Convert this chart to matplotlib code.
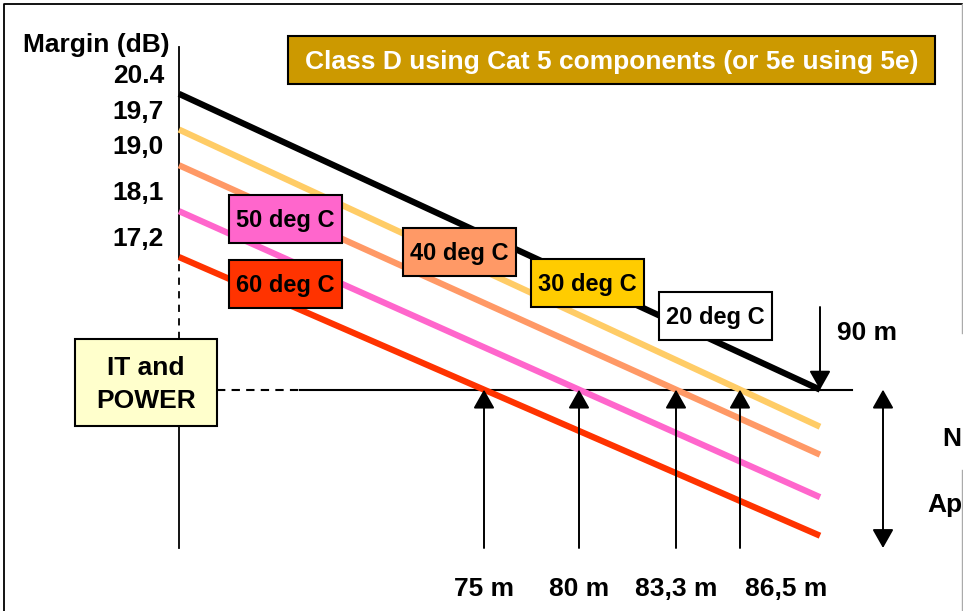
import numpy as np
import matplotlib
matplotlib.use("Agg")
import matplotlib.pyplot as plt
from matplotlib.patches import Rectangle
from matplotlib.transforms import blended_transform_factory

plt.rcParams['font.family'] = ['Liberation Sans', 'DejaVu Sans']
plt.rcParams['font.weight'] = 'bold'

# data
temps_c = [20, 30, 40, 50, 60]
start_margin_db = [20.4, 19.7, 19.0, 18.1, 17.2]
start_labels = ['20.4', '19,7', '19,0', '18,1', '17,2']
reach_m = [90, 86.5, 83.3, 80, 75]
reach_labels = ['90 m', '86,5 m', '83,3 m', '80 m', '75 m']
threshold_db = 14.6

line_colors = ['#000000', '#FFCC66', '#FF9966', '#FF66CC', '#FF3300']
box_colors = ['#FFFFFF', '#FFCC00', '#FF9966', '#FF66CC', '#FF3300']

W, H = 963, 611

# the length axis is not drawn to scale: piecewise linear scale (metres -> pixels from axis)
SCALE_M = [0, 75, 80, 83.3, 86.5, 90]
SCALE_PX = [0, 305, 400, 497, 561, 641]
AXIS_PX = 179
DB_TOP, PX_PER_DB = 22.24, 51.0


def _pwl(v, xp, fp):
    v = np.asarray(v, dtype=float)
    out = np.interp(v, xp, fp)
    lo = fp[0] + (v - xp[0]) * (fp[1] - fp[0]) / (xp[1] - xp[0])
    hi = fp[-1] + (v - xp[-1]) * (fp[-1] - fp[-2]) / (xp[-1] - xp[-2])
    out = np.where(v < xp[0], lo, out)
    out = np.where(v > xp[-1], hi, out)
    return out


def fwd(m):
    return _pwl(m, SCALE_M, SCALE_PX)


def inv(u):
    return _pwl(u, SCALE_PX, SCALE_M)


def fx(px):
    return px / W


def fy(py):
    return 1 - py / H


fig = plt.figure(figsize=(W / 100, H / 100), dpi=100)
ax = fig.add_axes([0, 0, 1, 1])
ax.set_xscale('function', functions=(fwd, inv))
ax.set_xlim(float(inv(-AXIS_PX)), float(inv(W - AXIS_PX)))
ax.set_ylim(DB_TOP - H / PX_PER_DB, DB_TOP)
ax.axis('off')
xdata_yaxes = blended_transform_factory(ax.transData, ax.transAxes)

# outer frame
ax.plot([fx(3.5), fx(3.5), fx(961.5)], [fy(H), fy(3.5), fy(3.5)],
        transform=ax.transAxes, color='black', lw=1.3, clip_on=False)
ax.plot([fx(961.5), fx(961.5)], [fy(3.5), fy(333)], transform=ax.transAxes,
        color='#aaaaaa', lw=1.0)
ax.plot([fx(961.5), fx(961.5)], [fy(470), fy(H)], transform=ax.transAxes,
        color='#aaaaaa', lw=1.0)

# vertical margin axis at 0 m
ax.axvline(0, ymin=fy(259), ymax=fy(47), color='black', lw=1.3, zorder=1)
ax.axvline(0, ymin=fy(339), ymax=fy(259), color='black', lw=1.3,
           ls=(0, (4, 3.5)), zorder=1)
ax.axvline(0, ymin=fy(548), ymax=fy(426), color='black', lw=1.3, zorder=1)

# threshold line
ax.axhline(threshold_db, xmin=fx(217), xmax=fx(300), color='black', lw=1.5,
           ls=(0, (4, 3)), zorder=1)
ax.axhline(threshold_db, xmin=fx(300), xmax=fx(852), color='black', lw=1.5,
           zorder=1)

# margin lines, straight on the drawing, crossing the threshold at their reach
u_end = float(fwd(90))
for s, r, c in zip(start_margin_db, reach_m, line_colors):
    u_r = float(fwd(r))
    y_end = s + (threshold_db - s) * u_end / u_r
    ax.plot([0, 90], [s, y_end], color=c, lw=4.5, solid_capstyle='butt',
            zorder=3 if c == '#000000' else 2)

# start value labels
ax.text(fx(170), fy(52), 'Margin (dB)', transform=ax.transAxes,
        ha='right', va='baseline', fontsize=19)
for s, lab in zip(start_margin_db, start_labels):
    ax.annotate(lab, xy=(0, s), xytext=(-15, 11), textcoords='offset pixels',
                ha='right', va='baseline', fontsize=19)

arrow_kw = dict(color='black', lw=1.4, shrinkA=0, shrinkB=0, mutation_scale=10)
head = 'head_length=1.15,head_width=0.65'

# reach arrows
for r, lab in zip(reach_m, reach_labels):
    if r == 90:
        ax.annotate('', xy=(r, threshold_db), xytext=(r, fy(307)),
                    textcoords=('data', 'axes fraction'),
                    arrowprops=dict(arrowstyle='-|>,' + head, **arrow_kw), zorder=4)
        ax.annotate(lab, xy=(r, fy(340)), xycoords=xdata_yaxes,
                    xytext=(17, 0), textcoords='offset pixels',
                    ha='left', va='baseline', fontsize=19)
    else:
        ax.annotate('', xy=(r, threshold_db), xytext=(r, fy(548)),
                    textcoords=('data', 'axes fraction'),
                    arrowprops=dict(arrowstyle='-|>,' + head, **arrow_kw), zorder=4)
        dx, ha = (5, 'left') if r == 86.5 else (0, 'center')
        ax.annotate(lab, xy=(r, fy(596)), xycoords=xdata_yaxes,
                    xytext=(dx, 0), textcoords='offset pixels',
                    ha=ha, va='baseline', fontsize=19)

# double arrow on the right
ax.annotate('', xy=(fx(883), threshold_db), xycoords=('axes fraction', 'data'),
            xytext=(fx(883), fy(548)), textcoords='axes fraction',
            arrowprops=dict(arrowstyle='<|-|>,' + head, **arrow_kw))
ax.text(fx(942), fy(446), 'N', transform=ax.transAxes, ha='left',
        va='baseline', fontsize=19)
ax.text(fx(927), fy(512), 'Ap', transform=ax.transAxes, ha='left',
        va='baseline', fontsize=19)


def box(x0, y0, x1, y1, fc, lw=1.5):
    ax.add_patch(Rectangle((fx(x0), fy(y1)), fx(x1) - fx(x0), fy(y0) - fy(y1),
                           transform=ax.transAxes, facecolor=fc,
                           edgecolor='black', lw=lw, zorder=5))


# temperature labels
box_pos = {20: (659, 292), 30: (531, 259), 40: (403, 228), 50: (229, 195), 60: (229, 260)}
for t, fc in zip(temps_c, box_colors):
    x0, y0 = box_pos[t]
    box(x0, y0, x0 + 113, y0 + 48, fc)
    ax.text(fx(x0 + 56.5), fy(y0 + 32), f'{t} deg C', transform=ax.transAxes,
            ha='center', va='baseline', fontsize=17, zorder=6)

# IT and POWER box
box(75, 339, 217, 426, '#FFFFCC')
ax.text(fx(146), fy(375), 'IT and', transform=ax.transAxes, ha='center',
        va='baseline', fontsize=19, zorder=6)
ax.text(fx(146), fy(408), 'POWER', transform=ax.transAxes, ha='center',
        va='baseline', fontsize=19, zorder=6)

# header
box(288, 36, 935, 84, '#CC9900')
ax.text(fx(611.5), fy(69), 'Class D using Cat 5 components (or 5e using 5e)',
        transform=ax.transAxes, ha='center', va='baseline', fontsize=19,
        color='white', zorder=6)

fig.savefig('out.png', dpi=100)
